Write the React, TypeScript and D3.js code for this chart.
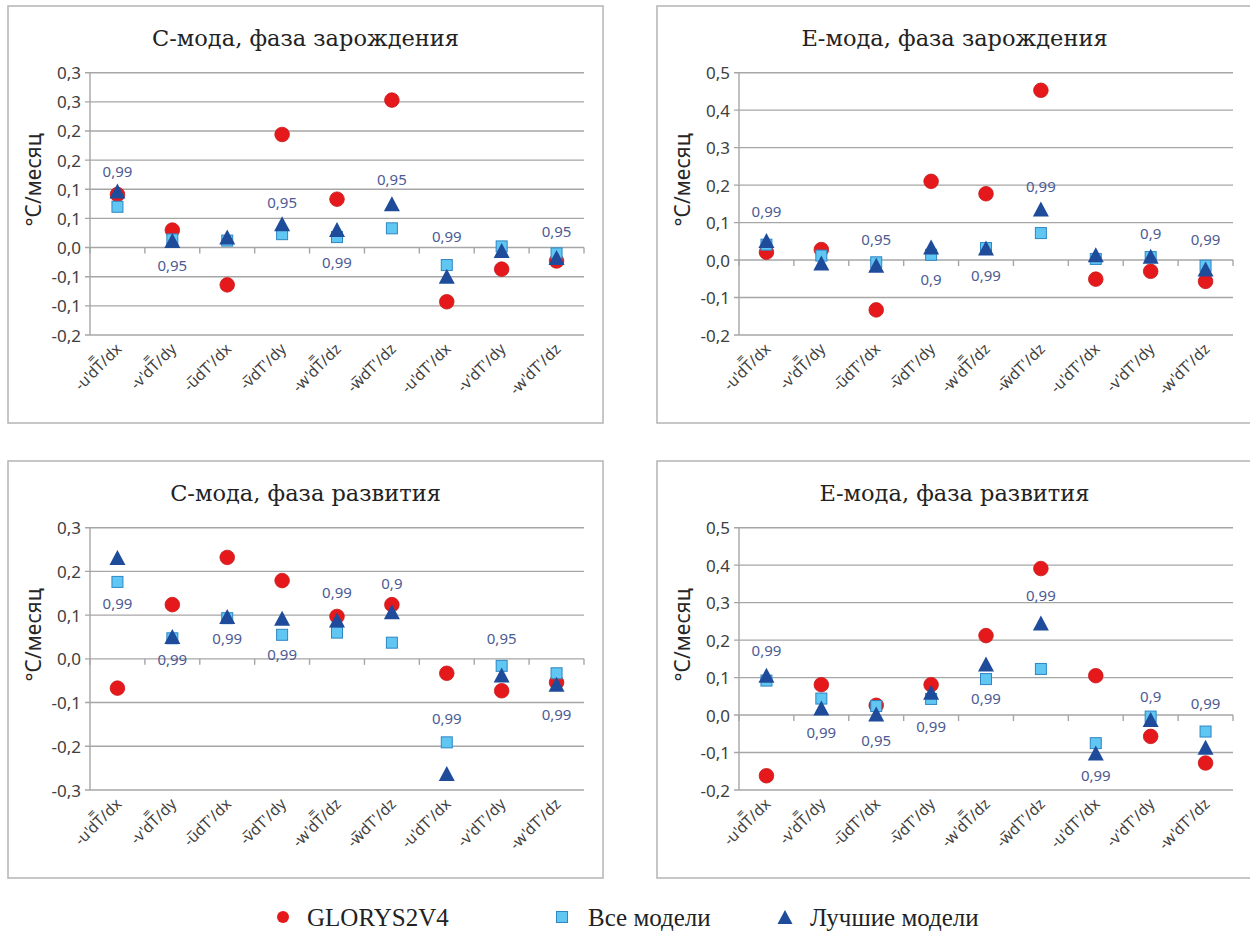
import React from "react";
import * as d3 from "d3";

// ---------- data ----------
const categories = [
  "-u'dT\u033F/dx",
  "-v'dT\u033F/dy",
  "-u\u0305dT'/dx",
  "-v\u0305dT'/dy",
  "-w'dT\u033F/dz",
  "-w\u0305dT'/dz",
  "-u'dT'/dx",
  "-v'dT'/dy",
  "-w'dT'/dz",
];

const seriesNames = ["GLORYS2V4", "Все модели", "Лучшие модели"];

// C-мода, фаза зарождения
const cInceptGlorys = [0.091, 0.030, -0.064, 0.194, 0.083, 0.253, -0.093, -0.037, -0.023];
const cInceptAll = [0.070, 0.014, 0.012, 0.023, 0.018, 0.033, -0.030, 0.002, -0.010];
const cInceptBest = [0.097, 0.012, 0.018, 0.041, 0.031, 0.075, -0.049, -0.005, -0.017];
const cInceptSig = ["0,99", "0,95", "", "0,95", "0,99", "0,95", "0,99", "", "0,95"];
const cInceptSigAt = [0.132, -0.030, null, 0.079, -0.025, 0.118, 0.019, null, 0.029];
const cInceptTicks = [-0.15, -0.1, -0.05, 0, 0.05, 0.1, 0.15, 0.2, 0.25, 0.3];
const cInceptTickLabels = ["-0,2", "-0,1", "-0,1", "0,0", "0,1", "0,1", "0,2", "0,2", "0,3", "0,3"];

// Е-мода, фаза зарождения
const eInceptGlorys = [0.021, 0.028, -0.133, 0.210, 0.177, 0.453, -0.051, -0.030, -0.057];
const eInceptAll = [0.041, 0.012, -0.006, 0.014, 0.032, 0.072, 0.003, 0.008, -0.015];
const eInceptBest = [0.052, -0.008, -0.014, 0.035, 0.032, 0.136, 0.014, 0.010, -0.024];
const eInceptSig = ["0,99", "", "0,95", "0,9", "0,99", "0,99", "", "0,9", "0,99"];
const eInceptSigAt = [0.130, null, 0.056, -0.051, -0.039, 0.197, null, 0.072, 0.057];

// C-мода, фаза развития
const cDevGlorys = [-0.067, 0.124, 0.232, 0.179, 0.097, 0.124, -0.033, -0.073, -0.054];
const cDevAll = [0.176, 0.047, 0.093, 0.055, 0.060, 0.037, -0.191, -0.016, -0.033];
const cDevBest = [0.232, 0.051, 0.097, 0.093, 0.089, 0.108, -0.262, -0.037, -0.058];
const cDevSig = ["0,99", "0,99", "0,99", "0,99", "0,99", "0,9", "0,99", "0,95", "0,99"];
const cDevSigAt = [0.127, 0.0, 0.047, 0.011, 0.153, 0.173, -0.136, 0.047, -0.127];
const cDevTicks = [-0.3, -0.2, -0.1, 0, 0.1, 0.2, 0.3];
const cDevTickLabels = ["-0,3", "-0,2", "-0,1", "0,0", "0,1", "0,2", "0,3"];

// Е-мода, фаза развития
const eDevGlorys = [-0.162, 0.081, 0.026, 0.081, 0.212, 0.391, 0.105, -0.057, -0.128];
const eDevAll = [0.092, 0.044, 0.024, 0.043, 0.096, 0.123, -0.075, -0.004, -0.044];
const eDevBest = [0.106, 0.019, 0.003, 0.061, 0.136, 0.246, -0.101, -0.012, -0.086];
const eDevSig = ["0,99", "0,99", "0,95", "0,99", "0,99", "0,99", "0,99", "0,9", "0,99"];
const eDevSigAt = [0.174, -0.046, -0.066, -0.030, 0.045, 0.321, -0.159, 0.050, 0.032];

const eTicks = [-0.2, -0.1, 0, 0.1, 0.2, 0.3, 0.4, 0.5];
const eTickLabels = ["-0,2", "-0,1", "0,0", "0,1", "0,2", "0,3", "0,4", "0,5"];

// ---------- style ----------
const RED = "#e5191c";
const SQ_FILL = "#60c6f2";
const SQ_STROKE = "#2f86c4";
const TRI = "#1f4b9b";
const SIG = "#4c5b93";
const GRID = "#a6a6a6";
const TXT = "#404040";
const SANS = "'Noto Sans', 'Open Sans', sans-serif";

const PW = 595;
const PH = 417;
const M = { left: 82, right: 19, top: 66.7, bottom: 88 };

type PanelProps = {
  x: number;
  y: number;
  title: string;
  ticks: number[];
  tickLabels: string[];
  glorys: number[];
  all: number[];
  best: number[];
  sig: string[];
  sigAt: (number | null)[];
};

function triPath(cx: number, cy: number, w: number, h: number) {
  return `M${cx},${cy - h / 2}L${cx + w / 2},${cy + h / 2}L${cx - w / 2},${cy + h / 2}Z`;
}

function Panel(p: PanelProps) {
  const x0 = M.left;
  const x1 = PW - M.right;
  const yTop = M.top;
  const yBot = PH - M.bottom;
  const xs = d3.scaleBand<string>().domain(categories).range([x0, x1]).padding(0);
  const ys = d3
    .scaleLinear()
    .domain([p.ticks[0], p.ticks[p.ticks.length - 1]])
    .range([yBot, yTop]);
  const cx = (c: string) => (xs(c) as number) + xs.bandwidth() / 2;
  const zeroY = ys(0);
  const boundaries = d3.range(categories.length + 1).map((i) => x0 + i * xs.bandwidth());

  return (
    <g transform={`translate(${p.x},${p.y})`}>
      <rect x={0} y={0} width={PW} height={PH} fill="#fff" stroke="#b4b4b4" strokeWidth={1.5} />
      <text
        x={PW / 2}
        y={40}
        textAnchor="middle"
        fontFamily="'DejaVu Serif', serif"
        fontSize={22.5}
        fill="#222"
      >
        {p.title}
      </text>
      {p.ticks.map((t, i) => (
        <g key={"g" + i}>
          <line x1={x0 - 5} x2={x1} y1={ys(t)} y2={ys(t)} stroke={GRID} strokeWidth={1.4} />
          <text
            x={x0 - 9}
            y={ys(t)}
            textAnchor="end"
            dominantBaseline="central"
            fontFamily={SANS}
            fontSize={17}
            fill={TXT}
          >
            {p.tickLabels[i]}
          </text>
        </g>
      ))}
      <line x1={x0} x2={x0} y1={yTop} y2={yBot} stroke={GRID} strokeWidth={1.4} />
      {boundaries.map((bx, i) => (
        <line key={"t" + i} x1={bx} x2={bx} y1={zeroY} y2={zeroY + 6} stroke={GRID} strokeWidth={1.4} />
      ))}
      <text
        transform={`translate(25,174) rotate(-90)`}
        textAnchor="middle"
        dominantBaseline="central"
        fontFamily={SANS}
        fontSize={21}
        fill="#262626"
      >
        °С/месяц
      </text>
      {categories.map((c, i) => (
        <text
          key={"x" + i}
          transform={`translate(${cx(c) + 5},${yBot + 15}) rotate(-45)`}
          textAnchor="end"
          fontFamily={SANS}
          fontSize={15.5}
          fill={TXT}
        >
          {c}
        </text>
      ))}
      {p.glorys.map((v, i) => (
        <circle
          key={"c" + i}
          cx={cx(categories[i])}
          cy={ys(v)}
          r={7.3}
          fill={RED}
          stroke="#c81818"
          strokeWidth={0.8}
        />
      ))}
      {p.all.map((v, i) => (
        <rect
          key={"s" + i}
          x={cx(categories[i]) - 5.5}
          y={ys(v) - 5.5}
          width={11}
          height={11}
          fill={SQ_FILL}
          stroke={SQ_STROKE}
          strokeWidth={1}
        />
      ))}
      {p.best.map((v, i) => (
        <path key={"b" + i} d={triPath(cx(categories[i]), ys(v), 16, 15)} fill={TRI} />
      ))}
      {p.sig.map((s, i) =>
        s && p.sigAt[i] !== null ? (
          <text
            key={"l" + i}
            x={cx(categories[i])}
            y={ys(p.sigAt[i] as number)}
            textAnchor="middle"
            dominantBaseline="central"
            fontFamily={SANS}
            fontSize={15}
            fill={SIG}
          >
            {s}
          </text>
        ) : null
      )}
    </g>
  );
}

function Legend() {
  const y = 917;
  const items = [
    { mx: 283, tx: 307 },
    { mx: 562, tx: 588 },
    { mx: 785, tx: 810 },
  ];
  return (
    <g>
      <circle cx={items[0].mx} cy={y} r={6} fill={RED} />
      <rect x={items[1].mx - 5.5} y={y - 5.5} width={11} height={11} fill={SQ_FILL} stroke={SQ_STROKE} />
      <path d={triPath(items[2].mx, y, 15, 14)} fill={TRI} />
      {seriesNames.map((n, i) => (
        <text
          key={n}
          x={items[i].tx}
          y={y}
          dominantBaseline="central"
          fontFamily="'Liberation Serif', 'Times New Roman', serif"
          fontSize={25}
          fill="#222"
        >
          {n}
        </text>
      ))}
    </g>
  );
}

export default function App() {
  return (
    <svg
      width={1250}
      height={935}
      style={{ position: "absolute", left: 0, top: 0, background: "#fff" }}
    >
      <rect x={0} y={0} width={1250} height={935} fill="#fff" />
      <Panel
        x={8}
        y={6}
        title="С-мода, фаза зарождения"
        ticks={cInceptTicks}
        tickLabels={cInceptTickLabels}
        glorys={cInceptGlorys}
        all={cInceptAll}
        best={cInceptBest}
        sig={cInceptSig}
        sigAt={cInceptSigAt}
      />
      <Panel
        x={657}
        y={6}
        title="Е-мода, фаза зарождения"
        ticks={eTicks}
        tickLabels={eTickLabels}
        glorys={eInceptGlorys}
        all={eInceptAll}
        best={eInceptBest}
        sig={eInceptSig}
        sigAt={eInceptSigAt}
      />
      <Panel
        x={8}
        y={461}
        title="С-мода, фаза развития"
        ticks={cDevTicks}
        tickLabels={cDevTickLabels}
        glorys={cDevGlorys}
        all={cDevAll}
        best={cDevBest}
        sig={cDevSig}
        sigAt={cDevSigAt}
      />
      <Panel
        x={657}
        y={461}
        title="Е-мода, фаза развития"
        ticks={eTicks}
        tickLabels={eTickLabels}
        glorys={eDevGlorys}
        all={eDevAll}
        best={eDevBest}
        sig={eDevSig}
        sigAt={eDevSigAt}
      />
      <Legend />
    </svg>
  );
}
